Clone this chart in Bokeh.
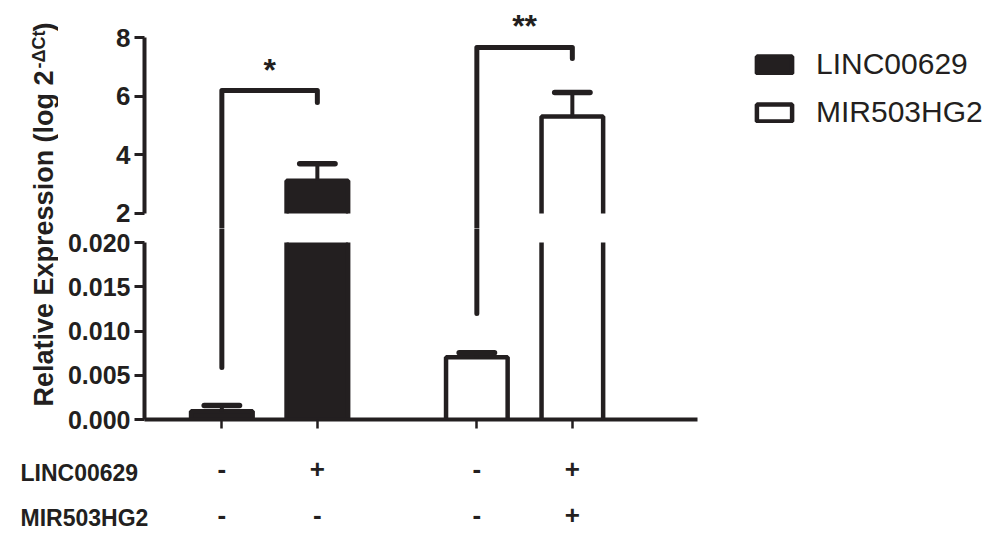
import numpy as np
from bokeh.plotting import figure
from bokeh.models import (Range1d, FixedTicker, PrintfTickFormatter, CustomJSTickFormatter,
                          Label, Legend, LegendItem, ColumnDataSource)
from bokeh.layouts import row, column
from bokeh.embed import file_html
from bokeh.resources import INLINE
from bokeh.core.properties import value

# ---------------- data ----------------
series = ["LINC00629", "LINC00629", "MIR503HG2", "MIR503HG2"]
means = [0.00094, 3.12, 0.00704, 5.31]
errors = [0.00064, 0.58, 0.00050, 0.815]
linc_flags = ["-", "+", "-", "+"]
mir_flags = ["-", "-", "-", "+"]
row_names = ["LINC00629", "MIR503HG2"]
legend_labels = ["LINC00629", "MIR503HG2"]
upper_ticks = [2, 4, 6, 8]
lower_ticks = [0.000, 0.005, 0.010, 0.015, 0.020]
break_low = 0.020   # top of lower segment
break_high = 2.0    # bottom of upper segment
bracket_left = [0, 2]
bracket_right = [1, 3]
bracket_tops = [6.19, 7.66]
bracket_drops = [5.78, 7.28]
bracket_feet = [0.00588, 0.01198]
bracket_marks = ["*", "**"]
y_title = "Relative Expression (log 2"
y_title_sup = "-\u0394Ct"
y_title_end = " )"

# ---------------- layout / style ----------------
DARK = "#231f20"
FONT = "Liberation Sans"
fill_for = {"LINC00629": DARK, "MIR503HG2": "white"}
positions = np.array([1.0, 2.0, 3.67, 4.67])
BAR_W = 0.645
CAP_W = 0.37
PXU = 95.5                     # px per x unit
X0 = 0.19
TITLE_W, LEFT_B, FRAME_W = 58, 86, 856
TOP_H, BOT_H, ROWS_H = 228, 212, 93
UPX = 29.333                   # px per unit, upper panel
LPX = 8850.0                   # px per unit, lower panel
x_range = Range1d(X0, X0 + FRAME_W / PXU)
top_range = Range1d(break_high - 15 / UPX, 8 + 37 / UPX)
bot_range = Range1d(0, break_low + 14 / LPX)

m = np.array(means)
e = np.array(errors)
fills = [fill_for[s] for s in series]


def style_axis(ax, size):
    ax.axis_line_width = 4
    ax.axis_line_color = DARK
    ax.major_tick_line_width = 3
    ax.major_tick_line_color = DARK
    ax.major_tick_out = 10
    ax.major_tick_in = 0
    ax.minor_tick_line_color = None
    ax.major_label_text_font = FONT
    ax.major_label_text_font_style = "bold"
    ax.major_label_text_font_size = size
    ax.major_label_text_color = DARK
    ax.major_label_standoff = 4


def base_fig(h, yr, bottom_border):
    p = figure(width=LEFT_B + FRAME_W, height=h, x_range=x_range, y_range=yr, title=None,
               toolbar_location=None, output_backend="svg",
               min_border_left=LEFT_B, min_border_right=0, min_border_top=0,
               min_border_bottom=bottom_border, outline_line_color=None,
               x_axis_location="below" if bottom_border else None)
    p.grid.visible = False
    p.background_fill_color = "white"
    p.border_fill_color = "white"
    return p


def draw_common(p):
    # error bars
    p.segment(x0=positions, y0=m, x1=positions, y1=m + e, line_color=DARK, line_width=4)
    p.segment(x0=positions - CAP_W / 2, y0=m + e, x1=positions + CAP_W / 2, y1=m + e,
              line_color=DARK, line_width=5.5, line_cap="round")
    # brackets
    xs, ys = [], []
    for i, j, t, d, f in zip(bracket_left, bracket_right, bracket_tops, bracket_drops, bracket_feet):
        xs.append([positions[i], positions[i], positions[j], positions[j]])
        ys.append([f, t, t, d])
    p.multi_line(xs=xs, ys=ys, line_color=DARK, line_width=5, line_join="round", line_cap="round")


# ---------------- upper panel ----------------
top = base_fig(TOP_H, top_range, 0)
up = m > break_high
top.vbar(x=positions[up], bottom=break_high, top=m[up], width=BAR_W,
         fill_color=[f for f, u in zip(fills, up) if u], line_color=None)
oxs, oys = [], []
for x, v in zip(positions[up], m[up]):
    l, r = x - BAR_W / 2, x + BAR_W / 2
    oxs.append([l, l, r, r])
    oys.append([break_high, v, v, break_high])
top.multi_line(xs=oxs, ys=oys, line_color=DARK, line_width=4.5)
draw_common(top)
mid = [(positions[i] + positions[j]) / 2 for i, j in zip(bracket_left, bracket_right)]
top.text(x=mid, y=bracket_tops, text=bracket_marks, text_align="center", text_baseline="alphabetic",
         y_offset=-21, text_font=value(FONT), text_font_style="bold", text_font_size="32px",
         text_color=DARK)
top.yaxis.ticker = FixedTicker(ticks=upper_ticks)
top.yaxis.bounds = (upper_ticks[0], upper_ticks[-1])
style_axis(top.yaxis[0], "26px")

# legend: hidden per-series renderers carry the swatch styles
leg_items = []
for lab in legend_labels:
    idx = [k for k, s in enumerate(series) if s == lab]
    src = ColumnDataSource(dict(x=positions[idx], top=m[idx]))
    r = top.vbar(x="x", top="top", bottom=break_high, width=BAR_W, source=src,
                 fill_color=fill_for[lab], line_color=DARK, line_width=4.5, visible=False)
    leg_items.append(LegendItem(label=lab, renderers=[r]))
legend = Legend(items=leg_items, location=(608, 99), padding=0, margin=0, spacing=14,
                glyph_width=44, glyph_height=21, label_standoff=20,
                label_text_font=FONT, label_text_font_size="30px", label_text_color=DARK,
                border_line_color=None, background_fill_alpha=0,
                inactive_fill_alpha=0, click_policy="none")
top.add_layout(legend)

# ---------------- lower panel ----------------
bot = base_fig(BOT_H, bot_range, 21)
low_top = np.minimum(m, break_low)
bot.vbar(x=positions, bottom=0, top=low_top, width=BAR_W, fill_color=fills, line_color=None)
oxs, oys = [], []
for x, v, t in zip(positions, m, low_top):
    l, r = x - BAR_W / 2, x + BAR_W / 2
    if v <= break_low:
        oxs.append([l, l, r, r])
        oys.append([0, t, t, 0])
    else:
        oxs += [[l, l], [r, r]]
        oys += [[0, t], [0, t]]
bot.multi_line(xs=oxs, ys=oys, line_color=DARK, line_width=4.5)
draw_common(bot)
bot.yaxis.ticker = FixedTicker(ticks=lower_ticks)
bot.yaxis.bounds = (lower_ticks[0], lower_ticks[-1])
bot.yaxis.formatter = PrintfTickFormatter(format="%.3f")
style_axis(bot.yaxis[0], "25px")
bot.xaxis.ticker = FixedTicker(ticks=list(positions))
bot.xaxis.bounds = (X0, 5.98)
bot.xaxis.formatter = CustomJSTickFormatter(code="return ''")
style_axis(bot.xaxis[0], "10px")
bot.xaxis.major_tick_line_width = 2.5
bot.xaxis.major_tick_out = 9
bot.xaxis.major_label_standoff = 0

# ---------------- y title ----------------
H = TOP_H + BOT_H
tfig = figure(width=TITLE_W, height=H, x_range=Range1d(0, 1), y_range=Range1d(0, 1), title=None,
              toolbar_location=None, output_backend="svg", min_border=0,
              x_axis_location=None, y_axis_location=None, outline_line_color=None)
tfig.grid.visible = False
tkw = dict(x_units="screen", y_units="screen", angle=np.pi / 2, text_font=FONT,
           text_font_style="bold", text_color=DARK, text_align="left", text_baseline="alphabetic")
tfig.add_layout(Label(x=43, y=34, text=y_title, text_font_size="27px", **tkw))
tfig.add_layout(Label(x=38, y=372, text=y_title_sup, text_font_size="18px", **tkw))
tfig.add_layout(Label(x=43, y=409, text=y_title_end, text_font_size="27px", **tkw))

# ---------------- +/- rows ----------------
full_w = TITLE_W + LEFT_B + FRAME_W
shift = (TITLE_W + LEFT_B) / PXU
rfig = figure(width=full_w, height=ROWS_H, x_range=Range1d(X0 - shift, X0 + FRAME_W / PXU),
              y_range=Range1d(0, ROWS_H), title=None, toolbar_location=None, output_backend="svg",
              min_border=0, x_axis_location=None, y_axis_location=None, outline_line_color=None)
rfig.grid.visible = False
sym_kw = dict(text_align="center", text_baseline="alphabetic", text_font=value(FONT),
              text_font_style="bold", text_font_size="26px", text_color=DARK)
rfig.text(x=positions, y=[65] * 4, text=linc_flags, **sym_kw)
rfig.text(x=positions, y=[19] * 4, text=mir_flags, **sym_kw)
for name, yy in zip(row_names, [61, 16]):
    rfig.add_layout(Label(x=20, y=yy, x_units="screen", y_units="screen", text=name,
                          text_font=FONT, text_font_style="bold", text_font_size="23px",
                          text_color=DARK, text_align="left", text_baseline="alphabetic"))

layout = column(row(tfig, column(top, bot)), rfig)
open("out.html", "w").write(file_html(layout, INLINE))
